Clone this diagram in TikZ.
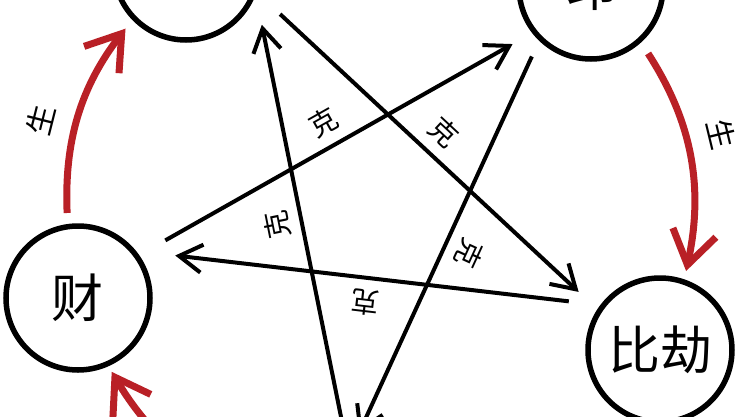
\documentclass[tikz,border=0pt]{standalone}
\usepackage{fontspec}
\newfontfamily\cjk{Noto Sans CJK SC}
\usetikzlibrary{arrows.meta}
\definecolor{shengred}{RGB}{185,32,38}

\begin{document}
\begin{tikzpicture}[x=1pt, y=1pt,
    elem/.style={circle, draw, line width=5.5pt, minimum size=144pt, inner sep=0pt, font=\cjk\fontsize{52}{52}\selectfont},
    ke/.style={line width=4pt, -{Straight Barb[length=23pt, width=28pt]}},
    sheng/.style={shengred, line width=7pt, -{Straight Barb[length=33pt, width=44pt]}},
    kelabel/.style={sloped, allow upside down, above, inner sep=10pt, font=\cjk\fontsize{28}{28}\selectfont},
    shenglabel/.style={sloped, allow upside down, above, inner sep=19pt, text=black, font=\cjk\fontsize{30}{30}\selectfont}]
  \path[use as bounding box, fill=white] (0,-416) rectangle (740,0);
  \clip (0,-416) rectangle (740,0);

  \node[elem] (guansha) at (186,32) {};
  \node[elem] (yin) at (591,13) {印};
  \node[elem] (cai) at (78,-298) {财};
  \node[elem] (bijie) at (660,-350) {比劫};
  \node[elem] (shishang) at (352,-520) {};

  \draw[sheng, shorten <=11pt, shorten >=11pt] (cai.98.7) to[bend left=20] node[shenglabel, pos=0.43] (sheng1) {生} (guansha.224.5);
  \draw[sheng, shorten <=13pt, shorten >=8.5pt] (yin.-48.2) to[bend left=22.5] node[shenglabel, pos=0.44] (sheng2) {生} (bijie.71.1);
  \draw[sheng, shorten <=12pt, shorten >=6.5pt] (shishang.167.5) to[bend left=20.5] (cai.-66.9);

  \draw[ke, shorten <=32pt, shorten >=25.5pt] (guansha.-19.8) -- node[kelabel] (ke1) {克} (bijie.147.3);
  \draw[ke, shorten <=20pt, shorten >=30.6pt] (shishang.94.7) -- node[kelabel] (ke2) {克} (guansha.-21.1);
  \draw[ke, shorten <=30pt, shorten >=22.4pt] (cai.35.5) -- node[kelabel] (ke3) {克} (yin.218.8);
  \draw[ke, shorten <=31.7pt, shorten >=39.4pt] (bijie.143.8) -- node[kelabel] (ke4) {克} (cai.39.5);
  \draw[ke, shorten <=17.3pt, shorten >=13pt] (yin.226.4) -- node[kelabel] (ke5) {克} (shishang.89);
\end{tikzpicture}
\end{document}
